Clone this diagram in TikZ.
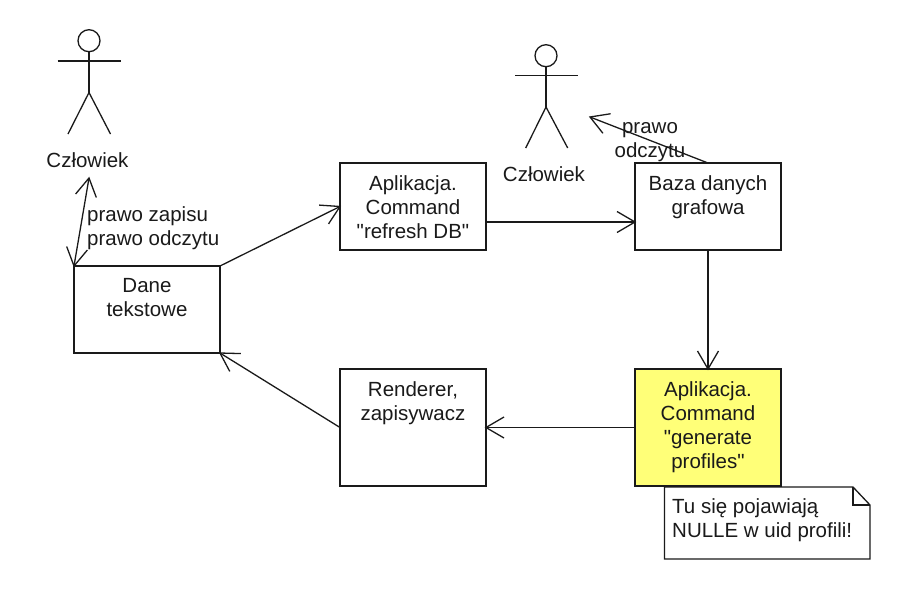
\documentclass[tikz,border=0pt]{standalone}
\usepackage{fontspec}
\newfontfamily\lsans{Liberation Sans}
\usetikzlibrary{arrows.meta}
\definecolor{ink}{HTML}{1A1A1A}
\definecolor{notey}{HTML}{FFFF78}
\newcommand{\boxlines}[2]{\parbox[c][#1pt][t]{146pt}{\centering\vspace*{12.5pt}#2\par}}
\pgfdeclarearrow{
  name=VBarb,
  defaults={length=18pt,width=21pt,line width=1.3pt},
  setup code={
    \pgfarrowssettipend{0pt}
    \pgfarrowssetlineend{-0.6pt}
    \pgfarrowssetvisualbackend{-\pgfarrowlength}
    \pgfarrowssetbackend{-\pgfarrowlength}
    \pgfarrowssavethe\pgfarrowlength
    \pgfarrowssavethe\pgfarrowwidth
  },
  drawing code={
    \pgfsetdash{}{0pt}
    \pgfsetbuttcap
    \pgfsetmiterjoin
    \pgfpathmoveto{\pgfqpoint{-\pgfarrowlength}{0.5\pgfarrowwidth}}
    \pgfpathlineto{\pgfqpoint{0pt}{0pt}}
    \pgfpathlineto{\pgfqpoint{-\pgfarrowlength}{-0.5\pgfarrowwidth}}
    \pgfusepathqstroke
  },
  parameters={\the\pgfarrowlength,\the\pgfarrowwidth}
}
\tikzset{
  base/.style={text=ink,font=\lsans\fontsize{20.5}{24}\selectfont},
  umlbox/.style={base,draw=ink,line width=1.3pt,fill=white,inner sep=0pt,outer sep=0pt,minimum width=146pt},
  yellowbox/.style={umlbox,fill=notey},
  caption/.style={base,inner sep=0pt,align=center},
  noteline/.style={draw=ink,line width=1.3pt,line join=miter},
  actor/.style={draw=ink,line width=1.3pt},
  head/.style={circle,draw=ink,line width=1.3pt,minimum size=22pt,inner sep=0pt,outer sep=0pt},
  flow/.style={draw=ink,line width=1.3pt,-{VBarb[length=18pt,width=21pt]}},
  both/.style={draw=ink,line width=1.3pt,{VBarb[length=18pt,width=21pt]}-{VBarb[length=18pt,width=21pt]}}
}
\begin{document}
\begin{tikzpicture}[x=1pt,y=-1pt]
\useasboundingbox (0,0) rectangle (900,590);
% boxes
\node[umlbox] (dane) at (147,309.5) {\boxlines{87}{Dane\\tekstowe}};
\node[umlbox] (app) at (413,206.5) {\boxlines{87}{Aplikacja.\\Command\\"refresh DB"}};
\node[umlbox] (baza) at (708,206.5) {\boxlines{87}{Baza danych\\grafowa}};
\node[umlbox] (rend) at (413,427.5) {\boxlines{117}{Renderer,\\zapisywacz}};
\node[yellowbox] (gen) at (708,427.5) {\boxlines{117}{Aplikacja.\\Command\\"generate\\profiles"}};
% actor 1
\node[head] (h1) at (89,40.7) {};
\coordinate (hip1) at (89,92.5);
\coordinate (al1) at (57.5,61);
\coordinate (ar1) at (121,61);
\coordinate (ll1) at (68,134);
\coordinate (lr1) at (110.5,134);
\draw[actor] (h1.south) -- (hip1);
\draw[actor] (al1) -- (ar1);
\draw[actor] (ll1) -- (hip1) -- (lr1);
\node[caption] (lab1) at (87.5,160) {Człowiek};
% actor 2
\node[head] (h2) at (546,55.7) {};
\coordinate (hip2) at (546,107);
\coordinate (al2) at (515,75.7);
\coordinate (ar2) at (578,75.7);
\coordinate (ll2) at (525.7,148);
\coordinate (lr2) at (567.7,148);
\draw[actor] (h2.south) -- (hip2);
\draw[actor] (al2) -- (ar2);
\draw[actor] (ll2) -- (hip2) -- (lr2);
\node[caption] (lab2) at (544,174) {Człowiek};
% connectors
\coordinate (humanA) at (89,178);
\coordinate (humanB) at (590,117);
\draw[both] (humanA) -- (dane.north west);
\draw[flow] (dane.north east) -- (app.west);
\draw[flow] ([yshift=-15.5pt]app.east) -- ([yshift=-15.5pt]baza.west);
\draw[flow] (baza.south) -- (gen.north);
\draw[flow] (gen.west) -- (rend.east);
\draw[flow] (rend.west) -- (dane.south east);
\draw[flow] (baza.north) -- (humanB);
% labels
\node[caption,align=left,anchor=west] (t1) at (87,228) {prawo zapisu\\prawo odczytu};
\node[caption] (t2) at (650,142) {prawo\\odczytu};
% note
\coordinate (n1) at (664.5,487);
\coordinate (n2) at (853,487);
\coordinate (n3) at (870,505);
\coordinate (n4) at (870,559);
\coordinate (n5) at (664.5,559);
\coordinate (n6) at (853,505);
\draw[noteline,fill=white] (n1) -- (n2) -- (n3) -- (n4) -- (n5) -- cycle;
\draw[noteline] (n2) -- (n6) -- (n3);
\node[caption,align=left,anchor=west] (t3) at (672,520) {Tu się pojawiają\\NULLE w uid profili!};
\end{tikzpicture}
\end{document}
